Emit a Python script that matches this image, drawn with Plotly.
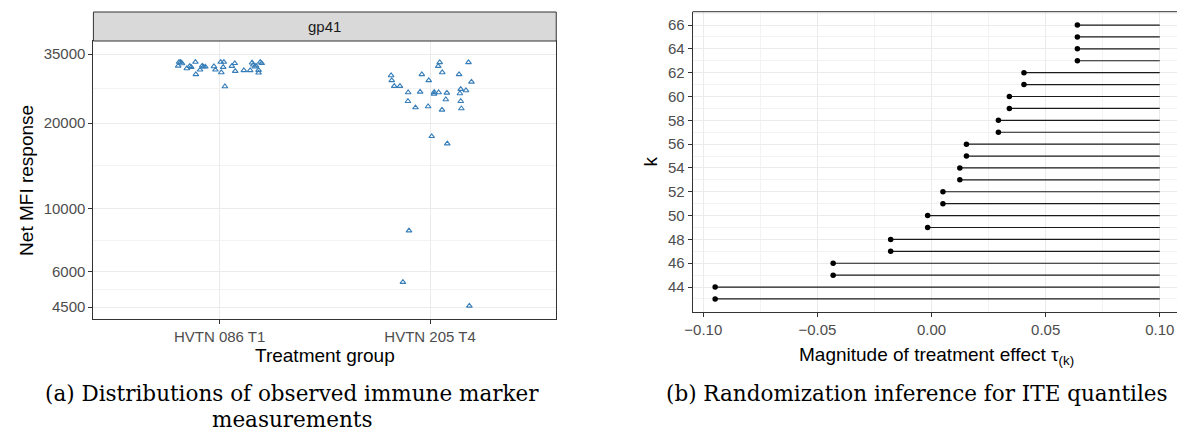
import plotly.graph_objects as go

W, H = 1177, 438

def fx(x):
    return x / W

def fy(y):
    return 1 - y / H

# ---------------- data: panel (a) ----------------
groups = ["HVTN 086 T1", "HVTN 205 T4"]
g1_jitter = [-0.193, -0.185, -0.197, -0.179, -0.156, -0.142, -0.135, -0.115, -0.113, -0.093,
             -0.083, -0.077, -0.068, -0.027, -0.020, 0.005, 0.020, 0.017, 0.008, 0.025,
             0.058, 0.072, 0.074, 0.115, 0.145, 0.154, 0.160, 0.167, 0.173, 0.185,
             0.185, 0.193, 0.200]
g1_mfi = [32800, 32800, 31800, 32430, 31140, 31740, 31480, 32800, 29670, 30800,
          31820, 31560, 31560, 31650, 30800, 32800, 32800, 31480, 30150, 26900,
          31740, 32470, 30470, 30650, 30650, 32610, 32080, 31560, 31820, 30730,
          30060, 32800, 32470]
g2_jitter = [0.046, 0.039, 0.183, 0.058, -0.185, -0.039, 0.138, -0.182, -0.006, 0.197,
             -0.170, -0.143, 0.146, 0.171, -0.104, -0.047, 0.020, 0.019, 0.041, 0.080,
             0.142, 0.075, -0.105, 0.146, -0.069, -0.009, 0.057, 0.149, 0.008, 0.082,
             -0.100, -0.129, 0.187]
g2_mfi = [32720, 31740, 32720, 30150, 29420, 29670, 29670, 28260, 28260, 27930,
          26980, 26980, 26330, 26050, 25630, 25760, 25690, 25340, 25630, 25550,
          25420, 24210, 23870, 23870, 22680, 22870, 22250, 22500, 17960, 16930,
          8360, 5506, 4541]
y_breaks = [4500, 6000, 10000, 20000, 35000]
y_minor = [5196, 7746, 14142, 26458]
facet_label = "gp41"

# ---------------- data: panel (b) ----------------
k_vals = list(range(43, 67))
tau_lower = [-0.0948, -0.0948, -0.0431, -0.0431, -0.0179, -0.0179, -0.0017, -0.0017,
             0.0050, 0.0050, 0.0124, 0.0124, 0.0153, 0.0153, 0.0293, 0.0293,
             0.0341, 0.0341, 0.0405, 0.0405, 0.0639, 0.0639, 0.0639, 0.0639]
tau_upper = [0.10] * len(k_vals)
x_breaks = [-0.10, -0.05, 0.0, 0.05, 0.10]
x_labels = ["\u22120.10", "\u22120.05", "0.00", "0.05", "0.10"]
x_minor = [-0.075, -0.025, 0.025, 0.075]
k_breaks = list(range(44, 67, 2))
k_minor = list(range(43, 68, 2))

# ---------------- styling ----------------
SANS = "Liberation Sans, Arial, sans-serif"
SERIF = "DejaVu Serif, serif"
TICKC = "#4d4d4d"
GRID = "#ebebeb"
GRIDMIN = "#f3f3f3"
AXC = "#333333"
PT_COLOR = "#377EB8"

fig = go.Figure()

# panel a points
fig.add_trace(go.Scatter(
    x=[1 + j for j in g1_jitter], y=g1_mfi, mode="markers",
    marker=dict(symbol="triangle-up-open", size=5, color=PT_COLOR, line=dict(width=1.1, color=PT_COLOR)),
    xaxis="x", yaxis="y", showlegend=False, hoverinfo="skip"))
fig.add_trace(go.Scatter(
    x=[2 + j for j in g2_jitter], y=g2_mfi, mode="markers",
    marker=dict(symbol="triangle-up-open", size=5, color=PT_COLOR, line=dict(width=1.1, color=PT_COLOR)),
    xaxis="x", yaxis="y", showlegend=False, hoverinfo="skip"))

# panel b segments
seg_x, seg_y = [], []
for k, lo, hi in zip(k_vals, tau_lower, tau_upper):
    seg_x += [lo, hi, None]
    seg_y += [k, k, None]
fig.add_trace(go.Scatter(x=seg_x, y=seg_y, mode="lines", line=dict(color="#1a1a1a", width=1.2),
                         xaxis="x2", yaxis="y2", showlegend=False, hoverinfo="skip"))
fig.add_trace(go.Scatter(x=tau_lower, y=k_vals, mode="markers",
                         marker=dict(symbol="circle", size=5.5, color="black"),
                         xaxis="x2", yaxis="y2", showlegend=False, hoverinfo="skip"))

# geometry
A_L, A_R, A_T, A_B = 86, 552, 41, 319
B_L, B_T, B_B = 689.3, 11.7, 312.3

common_tick = dict(ticks="outside", ticklen=4, tickwidth=1, tickcolor=AXC,
                   tickfont=dict(family=SANS, size=15, color=TICKC),
                   showline=True, linecolor=AXC, linewidth=1, zeroline=False,
                   gridcolor=GRID, gridwidth=1.2)

fig.update_layout(
    width=W, height=H, margin=dict(l=0, r=0, t=0, b=0),
    paper_bgcolor="white", plot_bgcolor="white", showlegend=False,
    xaxis=dict(domain=[fx(A_L), fx(A_R)], anchor="y", range=[0.4, 2.6],
               tickmode="array", tickvals=[1, 2], ticktext=groups, mirror=True,
               **common_tick),
    yaxis=dict(domain=[fy(A_B), fy(A_T)], anchor="x", type="log",
               range=[3.611, 4.590], tickmode="array", tickvals=y_breaks,
               ticktext=[str(v) for v in y_breaks], mirror=True,
               minor=dict(tickmode="array", tickvals=y_minor, showgrid=True,
                          gridcolor=GRIDMIN, gridwidth=0.8, ticks=""),
               **common_tick),
    xaxis2=dict(domain=[fx(B_L), 1.0], anchor="y2", range=[-0.10467, 0.10755],
                tickmode="array", tickvals=x_breaks, ticktext=x_labels,
                minor=dict(tickmode="array", tickvals=x_minor, showgrid=True,
                           gridcolor=GRIDMIN, gridwidth=0.8, ticks=""),
                **common_tick),
    yaxis2=dict(domain=[fy(B_B), fy(B_T)], anchor="x2", range=[41.88, 67.12],
                tickmode="array", tickvals=k_breaks, ticktext=[str(v) for v in k_breaks],
                minor=dict(tickmode="array", tickvals=k_minor, showgrid=True,
                           gridcolor=GRIDMIN, gridwidth=0.8, ticks=""),
                **common_tick),
)

# facet strip
fig.add_shape(type="rect", xref="paper", yref="paper",
              x0=fx(A_L), x1=fx(A_R), y0=fy(A_T), y1=fy(12),
              fillcolor="#d9d9d9", line=dict(color=AXC, width=1), layer="above")
fig.add_annotation(text=facet_label, xref="paper", yref="paper",
                   x=fx((A_L + A_R) / 2), y=fy(26.5), showarrow=False,
                   font=dict(family=SANS, size=15, color="#1a1a1a"),
                   xanchor="center", yanchor="middle")
# top border panel b
fig.add_shape(type="line", xref="paper", yref="paper",
              x0=fx(B_L), x1=1.0, y0=fy(B_T), y1=fy(B_T),
              line=dict(color=AXC, width=1), layer="above")

# axis titles
fig.add_annotation(text="Net MFI response", xref="paper", yref="paper",
                   x=fx(18), y=fy(180), textangle=-90, showarrow=False,
                   font=dict(family=SANS, size=19, color="black"),
                   xanchor="center", yanchor="middle")
fig.add_annotation(text="Treatment group", xref="paper", yref="paper",
                   x=fx((A_L + A_R) / 2), y=fy(355), showarrow=False,
                   font=dict(family=SANS, size=19, color="black"),
                   xanchor="center", yanchor="middle")
fig.add_annotation(text="k", xref="paper", yref="paper",
                   x=fx(647), y=fy(162), textangle=-90, showarrow=False,
                   font=dict(family=SANS, size=19, color="black"),
                   xanchor="center", yanchor="middle")
fig.add_annotation(text="Magnitude of treatment effect \u03c4<sub>(k)</sub>", xref="paper", yref="paper",
                   x=fx(935), y=fy(356), showarrow=False,
                   font=dict(family=SANS, size=19, color="black"),
                   xanchor="center", yanchor="middle")

# captions
fig.add_annotation(text="(a) Distributions of observed immune marker", xref="paper", yref="paper",
                   x=fx(286), y=fy(393), showarrow=False,
                   font=dict(family=SERIF, size=21.5, color="black"),
                   xanchor="center", yanchor="middle")
fig.add_annotation(text="measurements", xref="paper", yref="paper",
                   x=fx(286), y=fy(419), showarrow=False,
                   font=dict(family=SERIF, size=21.5, color="black"),
                   xanchor="center", yanchor="middle")
fig.add_annotation(text="(b) Randomization inference for ITE quantiles", xref="paper", yref="paper",
                   x=fx(915), y=fy(393), showarrow=False,
                   font=dict(family=SERIF, size=21.5, color="black"),
                   xanchor="center", yanchor="middle")

fig.write_html("out.html")
